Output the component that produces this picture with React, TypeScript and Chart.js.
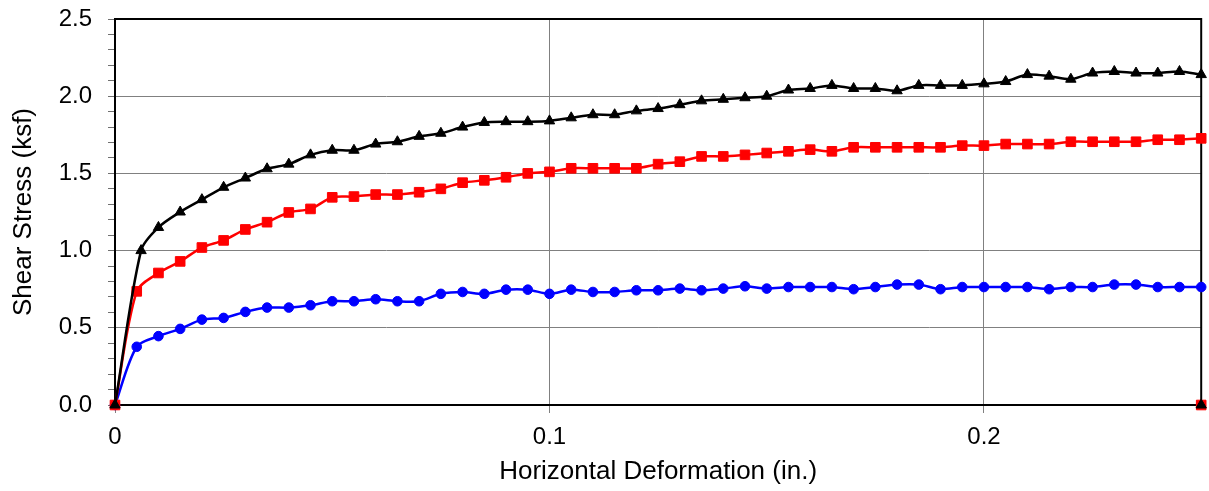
import React, { useEffect, useRef } from 'react';
import { Chart, registerables } from 'chart.js';

Chart.register(...registerables);

const deformation = [
  0, 0.005, 0.01, 0.015, 0.02, 0.025, 0.03, 0.035, 0.04, 0.045, 0.05, 0.055, 0.06, 0.065, 0.07, 0.075, 0.08,
  0.085, 0.09, 0.095, 0.1, 0.105, 0.11, 0.115, 0.12, 0.125, 0.13, 0.135, 0.14, 0.145, 0.15, 0.155, 0.16,
  0.165, 0.17, 0.175, 0.18, 0.185, 0.19, 0.195, 0.2, 0.205, 0.21, 0.215, 0.22, 0.225, 0.23, 0.235, 0.24,
  0.245, 0.25,
];

const deformationBlack = [
  0, 0.006, 0.01, 0.015, 0.02, 0.025, 0.03, 0.035, 0.04, 0.045, 0.05, 0.055, 0.06, 0.065, 0.07, 0.075, 0.08,
  0.085, 0.09, 0.095, 0.1, 0.105, 0.11, 0.115, 0.12, 0.125, 0.13, 0.135, 0.14, 0.145, 0.15, 0.155, 0.16,
  0.165, 0.17, 0.175, 0.18, 0.185, 0.19, 0.195, 0.2, 0.205, 0.21, 0.215, 0.22, 0.225, 0.23, 0.235, 0.24,
  0.245, 0.25,
];

const stressBlack = [
  0, 1.0, 1.15, 1.25, 1.33, 1.41, 1.47, 1.53, 1.56, 1.62, 1.65, 1.65, 1.69, 1.705, 1.74, 1.76, 1.8, 1.83,
  1.835, 1.835, 1.84, 1.86, 1.88, 1.88, 1.905, 1.92, 1.945, 1.97, 1.98, 1.99, 2.0, 2.04, 2.05, 2.07, 2.05,
  2.05, 2.035, 2.07, 2.07, 2.07, 2.08, 2.095, 2.14, 2.13, 2.11, 2.15, 2.16, 2.15, 2.15, 2.16, 2.14,
];

const stressRed = [
  0, 0.736, 0.855, 0.93, 1.02, 1.066, 1.137, 1.184, 1.247, 1.27, 1.345, 1.35, 1.363, 1.363, 1.378, 1.4,
  1.44, 1.455, 1.475, 1.5, 1.51, 1.533, 1.533, 1.533, 1.533, 1.56, 1.576, 1.61, 1.61, 1.62, 1.632, 1.643,
  1.654, 1.643, 1.669, 1.669, 1.669, 1.669, 1.669, 1.68, 1.68, 1.69, 1.69, 1.69, 1.705, 1.705, 1.705, 1.705,
  1.718, 1.718, 1.727,
];

const stressBlue = [
  0, 0.377, 0.446, 0.493, 0.553, 0.564, 0.603, 0.631, 0.631, 0.646, 0.672, 0.672, 0.685, 0.672, 0.672, 0.72,
  0.732, 0.72, 0.747, 0.747, 0.72, 0.747, 0.732, 0.732, 0.743, 0.743, 0.754, 0.743, 0.754, 0.769, 0.754,
  0.764, 0.764, 0.764, 0.75, 0.764, 0.78, 0.78, 0.75, 0.764, 0.764, 0.764, 0.764, 0.75, 0.764, 0.764, 0.78,
  0.78, 0.764, 0.764, 0.764,
];

// end-of-test points (unloaded) shown as markers only
const endDeformation = [0.25];
const endStress = [0];

const xTickLabels = ['0', '0.1', '0.2'];
const xTickValues = [0, 0.1, 0.2];

const FONT = "'Liberation Sans', Arial, sans-serif";

const toPoints = (xs: number[], ys: number[]) => xs.map((x, i) => ({ x, y: ys[i] }));

const framePlugin = {
  id: 'frame',
  beforeDatasetsDraw(chart: any) {
    const { ctx, chartArea: a } = chart;
    ctx.save();
    ctx.strokeStyle = '#000';
    ctx.lineWidth = 2;
    ctx.strokeRect(a.left, a.top, a.right - a.left, a.bottom - a.top);
    ctx.restore();
  },
};

const isMajorY = (v: number) => Math.round(v * 10) % 5 === 0;

export default function App() {
  const ref = useRef<HTMLCanvasElement | null>(null);

  useEffect(() => {
    if (!ref.current) return;
    Chart.defaults.font.family = FONT;
    const lineCommon = {
      showLine: true,
      borderWidth: 2.5,
      tension: 0.3,
      clip: false as any,
      pointBorderWidth: 1,
    };
    const chart = new Chart(ref.current, {
      type: 'scatter',
      data: {
        datasets: [
          {
            ...lineCommon,
            label: 'Black',
            data: toPoints(deformationBlack, stressBlack),
            borderColor: '#000000',
            backgroundColor: '#000000',
            pointStyle: 'triangle',
            pointRadius: 6,
          },
          {
            ...lineCommon,
            label: 'Red',
            data: toPoints(deformation, stressRed),
            borderColor: '#ff0000',
            backgroundColor: '#ff0000',
            pointStyle: 'rect',
            pointRadius: 6.8,
          },
          {
            ...lineCommon,
            label: 'Blue',
            data: toPoints(deformation, stressBlue),
            borderColor: '#0000ff',
            backgroundColor: '#0000ff',
            pointStyle: 'circle',
            pointRadius: 4.8,
          },
          {
            label: 'Black end',
            data: toPoints(endDeformation, endStress),
            showLine: false,
            clip: false as any,
            borderColor: '#000000',
            backgroundColor: '#000000',
            pointStyle: 'triangle',
            pointRadius: 6,
            pointBorderWidth: 1,
          },
          {
            label: 'Red end',
            data: toPoints(endDeformation, endStress),
            showLine: false,
            clip: false as any,
            borderColor: '#ff0000',
            backgroundColor: '#ff0000',
            pointStyle: 'rect',
            pointRadius: 6.8,
            pointBorderWidth: 1,
          },
        ],
      },
      options: {
        animation: false,
        responsive: false,
        maintainAspectRatio: false,
        layout: { padding: { top: 19, right: 2, left: 0, bottom: 0 } },
        plugins: {
          legend: { display: false },
          tooltip: { enabled: false },
        },
        scales: {
          x: {
            type: 'linear',
            min: 0,
            max: 0.25,
            afterFit: (s: any) => {
              s.height = 86;
              s.paddingLeft = 0;
              s.paddingRight = 0;
            },
            afterBuildTicks: (s: any) => {
              s.ticks = xTickValues.map((v) => ({ value: v }));
            },
            border: { display: false },
            grid: {
              color: '#808080',
              lineWidth: 1,
              tickLength: 8,
              tickColor: '#808080',
            },
            ticks: {
              autoSkip: false,
              maxRotation: 0,
              padding: 10,
              color: '#000',
              font: { size: 24, family: FONT },
              callback: (v: any) => {
                const i = xTickValues.indexOf(Number(v));
                return i >= 0 ? xTickLabels[i] : '';
              },
            },
            title: {
              display: true,
              text: 'Horizontal Deformation (in.)',
              color: '#000',
              font: { size: 26, family: FONT },
              padding: { top: 0, bottom: 4 },
            },
          },
          y: {
            type: 'linear',
            min: 0,
            max: 2.5,
            afterFit: (s: any) => {
              s.width = 115;
              s.paddingTop = 0;
              s.paddingBottom = 0;
            },
            border: { display: false },
            grid: {
              color: (c: any) => (c.tick && isMajorY(c.tick.value) ? '#808080' : 'rgba(0,0,0,0)'),
              lineWidth: 1,
              tickLength: 7,
              tickColor: '#707070',
            },
            ticks: {
              stepSize: 0.1,
              autoSkip: false,
              padding: 16,
              color: '#000',
              font: { size: 24, family: FONT },
              callback: (v: any) => (isMajorY(Number(v)) ? Number(v).toFixed(1) : ''),
            },
            title: {
              display: true,
              text: 'Shear Stress (ksf)',
              color: '#000',
              font: { size: 26, family: FONT },
              padding: { top: 8, bottom: 0 },
            },
          },
        },
      },
      plugins: [framePlugin],
    } as any);
    return () => chart.destroy();
  }, []);

  return (
    <div style={{ position: 'fixed', left: 0, top: 0, width: 1209, height: 491, background: '#fff' }}>
      <canvas ref={ref} width={1209} height={491} style={{ width: 1209, height: 491, display: 'block' }} />
    </div>
  );
}
